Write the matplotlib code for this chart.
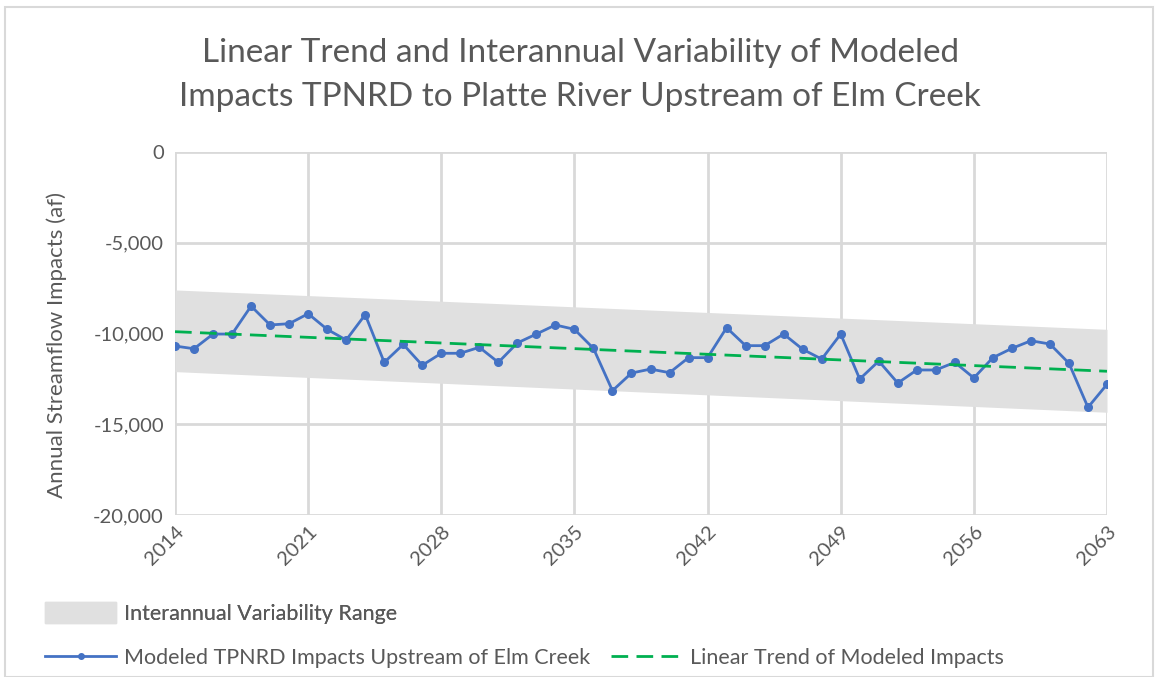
import matplotlib
matplotlib.use("Agg")
from matplotlib import pyplot as plt
from matplotlib.patches import Patch, Rectangle
from matplotlib.lines import Line2D
from matplotlib.ticker import FuncFormatter

plt.rcParams['font.family'] = ['Lato', 'DejaVu Sans']

# years 2014..2063
years = list(range(2014, 2064))

# modeled impacts (af)
impacts = [
    -10690, -10840, -10030, -10030, -8490, -9530, -9460, -8910, -9770, -10360,
    -8960, -11590, -10600, -11750, -11090, -11090, -10760, -11590, -10520, -10030,
    -9530, -9770, -10820, -13150, -12180, -11960, -12160, -11330, -11330, -9680,
    -10670, -10670, -10030, -10870, -11410, -10030, -12510, -11520, -12730, -12010,
    -12010, -11590, -12450, -11330, -10820, -10400, -10580, -11640, -14070, -12800,
]

# linear trend and variability band, end points (2014, 2063)
trend_ends = [-9900, -12080]
band_upper = [-7600, -9770]
band_lower = [-12100, -14340]
end_years = [2014, 2063]

xticks = list(range(2014, 2064, 7))
yticks = [0, -5000, -10000, -15000, -20000]

blue = '#4472C4'
green = '#00B050'
band_col = '#E0E0E0'
grid_col = '#D9D9D9'
text_col = '#595959'
dash = (0, (6, 3))

fig = plt.figure(figsize=(11.56, 6.77), dpi=100)
ax = fig.add_axes([175/1156, 1 - 515/677, (1107-175)/1156, (515-152)/677])

ax.fill_between(end_years, band_lower, band_upper, color=band_col, lw=0, zorder=1)
ax.plot(years, impacts, color=blue, lw=2, marker='o', ms=5.5, zorder=3)
ax.plot(end_years, trend_ends, color=green, lw=2, ls=dash, zorder=4)

ax.set_xlim(2014, 2063)
ax.set_ylim(-20000, 0)
ax.set_xticks(xticks)
ax.set_yticks(yticks)
ax.yaxis.set_major_formatter(FuncFormatter(lambda v, p: f'{v:,.0f}'))
ax.grid(True, color=grid_col, lw=2, zorder=0)
ax.set_axisbelow(True)
for s in ax.spines.values():
    s.set_visible(False)
ax.tick_params(length=0, colors=text_col, labelsize=14.5)
ax.tick_params(axis='y', pad=8)
ax.tick_params(axis='x', pad=6)
for lab in ax.get_xticklabels():
    lab.set_rotation(45)
    lab.set_ha('right')
    lab.set_va('top')
    lab.set_rotation_mode('anchor')

fig.text(0.502, 1 - 75/677,
         'Linear Trend and Interannual Variability of Modeled\n'
         'Impacts TPNRD to Platte River Upstream of Elm Creek',
         ha='center', va='center', fontsize=24, color=text_col, linespacing=1.6)
fig.text(57/1156, 1 - 345/677, 'Annual Streamflow Impacts (af)',
         rotation=90, ha='center', va='center', fontsize=16, color=text_col)

leg1 = fig.legend(handles=[Patch(color=band_col, label='Interannual Variability Range')],
                  loc='center left', bbox_to_anchor=(45/1156, 1 - 613/677),
                  borderaxespad=0, borderpad=0,
                  frameon=False, fontsize=15.5, handlelength=3.3, handleheight=1.1,
                  handletextpad=0.35, labelcolor=text_col)
handles = [
    Line2D([], [], color=blue, lw=2, marker='o', ms=4,
           label='Modeled TPNRD Impacts Upstream of Elm Creek'),
    Line2D([], [], color=green, lw=2, ls=dash,
           label='Linear Trend of Modeled Impacts'),
]
fig.legend(handles=handles, loc='center left', bbox_to_anchor=(45/1156, 1 - 658/677),
           borderaxespad=0, borderpad=0,
           ncol=2, frameon=False, fontsize=15.5, handlelength=3.3, columnspacing=1.0,
           handletextpad=0.35, labelcolor=text_col)
fig.add_artist(leg1)

fig.add_artist(Rectangle((5/1156, 0), 1148/1156, 1 - 7/677, transform=fig.transFigure,
                         fill=False, edgecolor=grid_col, lw=1.5))

fig.savefig('out.png', dpi=100)
